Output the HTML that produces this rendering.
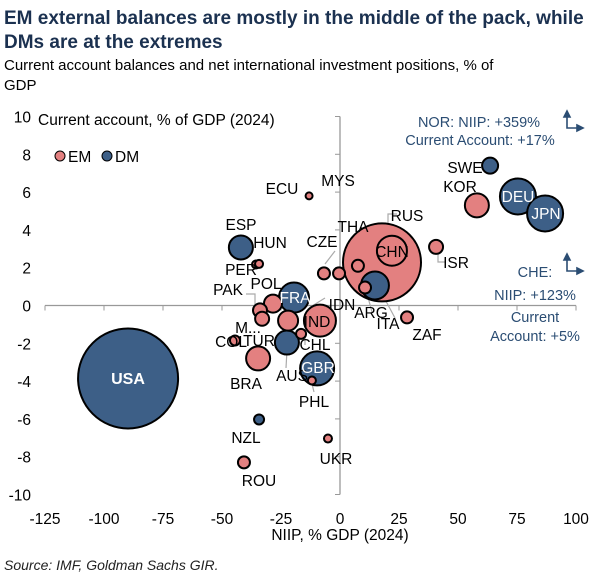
<!DOCTYPE html>
<html><head><meta charset="utf-8"><style>
body{margin:0;background:#fff;width:600px;height:580px;overflow:hidden;font-family:"Liberation Sans",Arial,sans-serif}
svg text{font-family:"Liberation Sans",Arial,sans-serif}
</style></head><body>
<svg id="chart" width="600" height="580">
<text x="4" y="24" font-size="19" font-weight="bold" fill="#1b3150">EM external balances are mostly in the middle of the pack, while</text>
<text x="4" y="48" font-size="19" font-weight="bold" fill="#1b3150">DMs are at the extremes</text>
<text x="4" y="70" font-size="15" fill="#000">Current account balances and net international investment positions, % of</text>
<text x="4" y="90" font-size="15" fill="#000">GDP</text>
<g id="axes"></g>
<g id="leaders" stroke="#aaa" stroke-width="1.2" fill="none">
<path d="M397 214 H388 V240"/>
<path d="M357 236 L358 262"/>
<path d="M243 255 L240 240"/>
<path d="M325 264 L335 251"/>
<path d="M380 290 L395 318"/>
<path d="M366 290 L372 312"/>
<path d="M438 250 L438 262 H445"/>
<path d="M287 350 L286 368"/>
<path d="M312 384 L314 392"/>
<path d="M305 336 L305 345"/>
<path d="M246 294 H255 V306"/>
<path d="M312 306 L325 298"/>
</g>
<g id="bubbles"></g>
<g id="labels"></g>
<text x="38" y="125" font-size="15.5">Current account, % of GDP (2024)</text>
<g>
<circle cx="60" cy="156" r="5" fill="#e38080" stroke="#000" stroke-width="1"/>
<text x="68" y="162" font-size="15.5">EM</text>
<circle cx="107" cy="156" r="5" fill="#3d5f87" stroke="#000" stroke-width="1"/>
<text x="115" y="162" font-size="15.5">DM</text>
</g>
<g fill="#2b4d73" font-size="14.5" text-anchor="middle">
<text x="479" y="127">NOR: NIIP: +359%</text>
<text x="480" y="145">Current Account: +17%</text>
<text x="535" y="277">CHE:</text>
<text x="535" y="300">NIIP: +123%</text>
<text x="535" y="322">Current</text>
<text x="535" y="341">Account: +5%</text>
</g>
<g stroke="#2b4d73" stroke-width="1.6" fill="#2b4d73">
<path d="M567 114 V128 H580" fill="none"/><path d="M564 117 L567 111 L570 117Z"/><path d="M577 125 L583 128 L577 131Z"/>
<path d="M567 257 V271 H580" fill="none"/><path d="M564 260 L567 254 L570 260Z"/><path d="M577 268 L583 271 L577 274Z"/>
</g>
<text x="340" y="540" font-size="15.5" text-anchor="middle">NIIP, % GDP (2024)</text>
<text x="4" y="570" font-size="14" font-style="italic" fill="#222">Source: IMF, Goldman Sachs GIR.</text>
</svg>
<script>
const countries=["USA","SWE","KOR","DEU","JPN","BIG","CHN","THA","ITA","ARG","ISR","ZAF","ECU","ESP","PER","HUN","CZE","MYS","FRA","POL","PAK","M...","IDN","IND","AUS","CHL","COL","BRA","GBR","PHL","NZL","UKR","ROU"];
const niip=[-89.8,63.6,58,75.4,86.9,17.8,22,7.6,14.8,10.6,40.7,28.4,-13.1,-42,-35.6,-34.3,-6.8,-0.4,-19.5,-28.4,-33.9,-33,-22,-8.5,-22.5,-16.5,-44.5,-34.7,-9.7,-11.9,-34.3,-5.1,-40.7];
const currentAccount=[-3.86,7.4,5.3,5.77,4.87,2.28,2.9,2.1,1.06,0.95,3.1,-0.63,5.8,3.07,2.17,2.2,1.7,1.7,0.42,0.1,-0.26,-0.7,-0.8,-0.8,-1.96,-1.5,-1.85,-2.8,-3.33,-3.97,-6.03,-7.04,-8.3];
const bubbleSize=[50,8,12,18,18,39,15,6,14,6,7,6,3.5,12,4,4,6,6,15,9,7,7,10,16,12,5,5,12,17,4,5,4,6];
const group=["DM","DM","EM","DM","DM","EM","EM","EM","DM","EM","EM","EM","EM","DM","EM","EM","EM","EM","DM","EM","EM","EM","EM","EM","DM","EM","EM","EM","DM","EM","DM","EM","EM"];
const xTicks=[-125,-100,-75,-50,-25,0,25,50,75,100];
const yTicks=[10,8,6,4,2,0,-2,-4,-6,-8,-10];
const NS="http://www.w3.org/2000/svg";
const xS=v=>340+v*2.36, yS=v=>305.5-v*18.9;
function mk(t,a,p){const e=document.createElementNS(NS,t);for(const k in a)e.setAttribute(k,a[k]);p.appendChild(e);return e;}
const ax=document.getElementById('axes');
let l=mk('line',{x1:xS(-125),x2:xS(100),y1:yS(0),y2:yS(0),stroke:'#999','stroke-width':1.3},ax);


l=mk('line',{x1:xS(0),x2:xS(0),y1:yS(10),y2:yS(-10),stroke:'#999','stroke-width':1.3},ax);


xTicks.forEach(v=>{
 const t=mk('line',{x1:xS(v),x2:xS(v),y1:yS(0),y2:yS(0)+5,stroke:'#999'},ax);
 
 
 const tx=mk('text',{x:xS(v),y:524,'font-size':15.5,'text-anchor':'middle'},ax);tx.textContent=v;
 
 
});
yTicks.forEach(v=>{
 const t=mk('line',{x1:xS(0)-5,x2:xS(0),y1:yS(v),y2:yS(v),stroke:'#999'},ax);
 
 
 const tx=mk('text',{x:31,y:yS(v)+6,'font-size':15.5,'text-anchor':'end'},ax);tx.textContent=v;
 
 
});
const bg=document.getElementById('bubbles');
const order=countries.map((c,i)=>i).sort((a,b)=>bubbleSize[b]-bubbleSize[a]);
order.forEach(i=>{
 const c=mk('circle',{cx:xS(niip[i]),cy:yS(currentAccount[i]),r:bubbleSize[i],fill:group[i]==="DM"?"#3d5f87":"#e38080",stroke:'#000','stroke-width':2},bg);
 
 
});
const labs=[["USA",128,384,"#fff"],["SWE",465,173,"#000"],["KOR",460,192,"#000"],["DEU",518,202,"#fff"],["JPN",546,219,"#fff"],["RUS",407,221,"#000"],["CHN",392,257,"#000"],["THA",353,232,"#000"],["ITA",388,329,"#000"],["ARG",371,318,"#000"],["ISR",456,268,"#000"],["ZAF",427,340,"#000"],["ECU",282,194,"#000"],["MYS",338,186,"#000"],["ESP",241,230,"#000"],["PER",241,275,"#000"],["HUN",270,248,"#000"],["CZE",322,247,"#000"],["FRA",295,303,"#fff"],["POL",266,289,"#000"],["PAK",228,295,"#000"],["M...",248,333,"#000"],["IDN",342,310,"#000"],["IND",317,327,"#000"],["TUR",259,346,"#000"],["CHL",315,350,"#000"],["COL",231,347,"#000"],["BRA",246,389,"#000"],["AUS",292,381,"#000"],["GBR",318,373,"#fff"],["PHL",314,407,"#000"],["NZL",246,443,"#000"],["UKR",336,464,"#000"],["ROU",259,486,"#000"]];
const lg=document.getElementById('labels');
labs.forEach(d=>{
 const t=mk('text',{x:d[1],y:d[2],'font-size':15.5,'text-anchor':'middle',fill:d[3]},lg);t.textContent=d[0];
 if(d[0]==="USA"){t.setAttribute('font-weight','bold');t.setAttribute('font-size','16');}
 
 
});
</script>
</body></html>
